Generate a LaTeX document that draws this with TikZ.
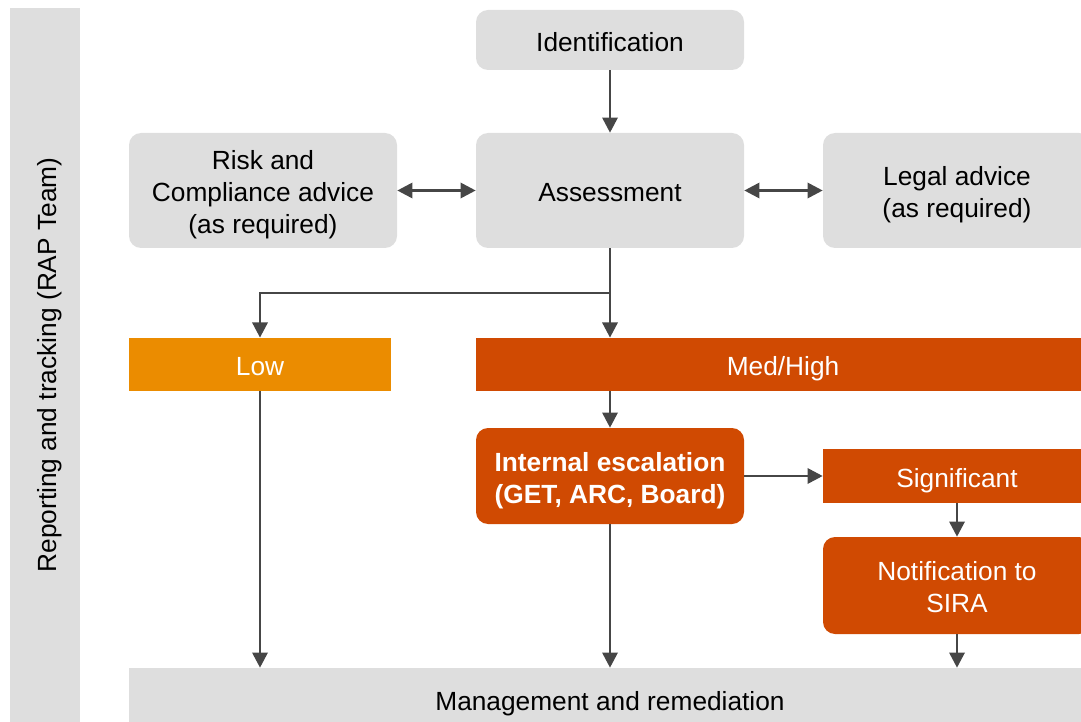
\documentclass[tikz,border=0pt]{standalone}
\usepackage{fontspec}
\setmainfont{Liberation Sans}
\usepackage{xcolor}
\usetikzlibrary{arrows.meta,positioning}
\definecolor{boxgray}{HTML}{DEDEDE}
\definecolor{lowor}{HTML}{EB8C00}
\definecolor{highor}{HTML}{D04A02}
\definecolor{linegray}{HTML}{464646}

\begin{document}
\begin{tikzpicture}[
  every node/.style={font=\fontsize{18.7}{22.8}\selectfont, inner sep=0pt},
  oneline/.style={text height=16pt, text depth=0pt},
  twolines/.style={text height=38.8pt, text depth=0pt},
  threelines/.style={text height=61.6pt, text depth=0pt},
  greybox/.style={rectangle, rounded corners=0.3cm, fill=boxgray,
    minimum width=6.7cm, align=center, text=black},
  flatbox/.style={rectangle, fill=#1, minimum width=6.55cm,
    minimum height=1.33cm, align=center, text=white, oneline},
  hotbox/.style={rectangle, rounded corners=0.3cm, fill=highor,
    minimum width=6.7cm, align=center, text=white, twolines},
  arrow/.style={-{Triangle[length=3.8mm,width=3.8mm]}, line width=2pt, linegray},
  twoway/.style={{Triangle[length=3.8mm,width=3.8mm]}-{Triangle[length=3.8mm,width=3.8mm]}, line width=2pt, linegray},
]
\clip (0,0) rectangle (27.025,-18.05);

% Side bar
\node[rectangle, fill=boxgray, rotate=90, minimum width=17.85cm, minimum height=1.75cm, oneline]
  (rap) at (1.125,-9.125) {Reporting and tracking (RAP Team)};

% Top row
\node[greybox, minimum height=1.5cm, oneline] (ident) at (15.25,-1.0) {Identification};
\node[greybox, minimum height=2.875cm, oneline] (assess) at (15.25,-4.7625) {Assessment};
\node[greybox, minimum height=2.875cm, threelines] (risk) at (6.575,-4.7625) {Risk and\\Compliance advice\\(as required)};
\node[greybox, minimum height=2.875cm, twolines] (legal) at (23.925,-4.7625) {Legal advice\\(as required)};

% Rating
\node[flatbox=lowor] (low) at (6.5,-9.1125) {Low};
\node[flatbox=highor, minimum width=15.35cm] (medhigh) at (19.575,-9.1125) {Med/High};

% Escalation
\node[hotbox, minimum height=2.4cm, font=\fontsize{18.7}{22.8}\selectfont\bfseries]
  (escal) at (15.25,-11.9) {Internal escalation\\(GET, ARC, Board)};
\node[flatbox=highor, minimum width=6.7cm, minimum height=1.35cm] (signif) at (23.925,-11.9) {Significant};
\node[hotbox, minimum height=2.425cm] (sira) at (23.925,-14.6375) {Notification to\\SIRA};

% Bottom
\node[rectangle, fill=boxgray, minimum width=24.05cm, minimum height=1.55cm, oneline]
  (manage) at (15.25,-17.475) {Management and remediation};

% Arrows
\coordinate (split) at (15.25,-7.325);
\draw[arrow] (ident) -- (assess);
\draw[twoway] (risk) -- (assess);
\draw[twoway] (assess) -- (legal);
\draw[line width=2pt, linegray] (assess) -- (split);
\draw[arrow] (split) -| (low);
\draw[arrow] (split) -- (medhigh.north -| split);
\draw[arrow] (low) -- (low |- manage.north);
\draw[arrow] (medhigh.south -| escal) -- (escal);
\draw[arrow] (escal) -- (signif);
\draw[arrow] (escal) -- (manage.north -| escal);
\draw[arrow] (signif) -- (sira);
\draw[arrow] (sira) -- (manage.north -| sira);
\end{tikzpicture}
\end{document}
